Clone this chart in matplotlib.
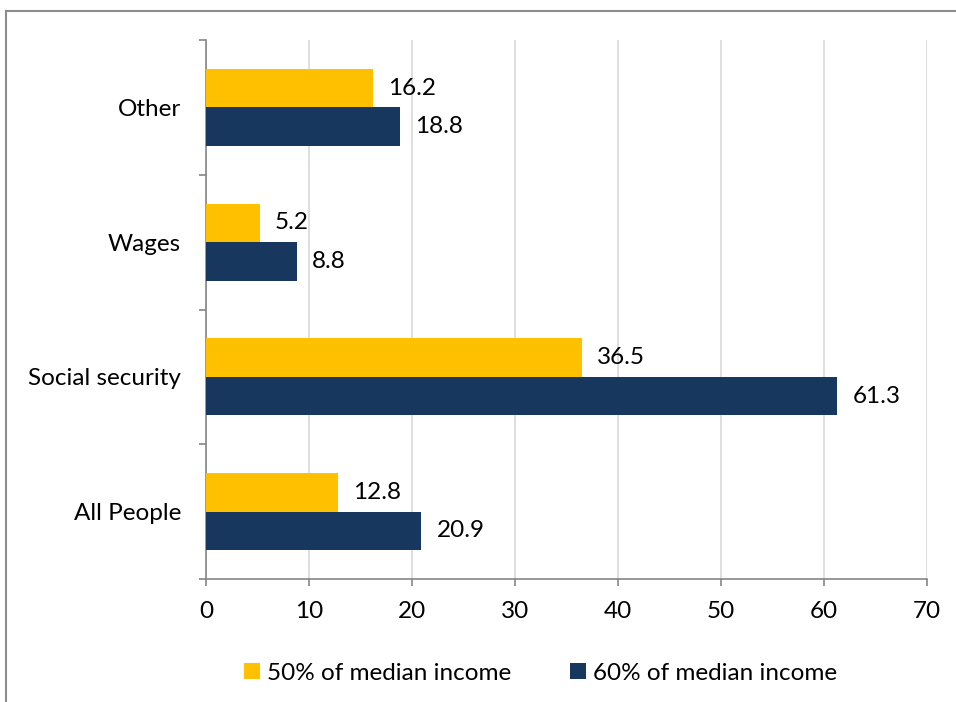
import numpy as np
import matplotlib.pyplot as plt
from matplotlib.lines import Line2D

categories = ['All People', 'Social security', 'Wages', 'Other']
median_50 = [12.8, 36.5, 5.2, 16.2]
median_60 = [20.9, 61.3, 8.8, 18.8]
series_names = ['50% of median income', '60% of median income']
x_ticks = [0, 10, 20, 30, 40, 50, 60, 70]

plt.rcParams['font.family'] = ['Lato', 'DejaVu Sans']
fs = 17.5

fig = plt.figure(figsize=(9.56, 7.02), dpi=100)
ax = fig.add_axes([0.2155, 0.1752, 0.7542, 0.7678])

y = np.arange(len(categories))
h = 0.285
b1 = ax.barh(y + h / 2, median_50, height=h, color='#FFC000', label=series_names[0], zorder=3)
b2 = ax.barh(y - h / 2, median_60, height=h, color='#17375E', label=series_names[1], zorder=3)

for bars, vals in [(b1, median_50), (b2, median_60)]:
    for bar, v in zip(bars, vals):
        ax.annotate(f'{v:.1f}', (v, bar.get_y() + bar.get_height() / 2),
                    xytext=(11, 0), textcoords='offset points',
                    va='center', ha='left', fontsize=fs, color='black')

ax.set_xlim(0, 70)
ax.set_ylim(-0.5, len(categories) - 0.5)
ax.set_xticks(x_ticks)
ax.set_xticklabels([str(t) for t in x_ticks], fontsize=fs)
ax.set_yticks(y)
ax.set_yticklabels(categories, fontsize=fs)
ax.set_yticks(np.arange(len(categories) + 1) - 0.5, minor=True)

ax.grid(axis='x', color='#D9D9D9', linewidth=1.2, zorder=0)
ax.tick_params(axis='y', which='major', length=0, pad=18)
ax.tick_params(axis='y', which='minor', length=5, color='#868686', width=1.2)
ax.tick_params(axis='x', length=5, color='#868686', width=1.2, pad=11)

for s in ['top', 'right']:
    ax.spines[s].set_visible(False)
for s in ['left', 'bottom']:
    ax.spines[s].set_color('#868686')
    ax.spines[s].set_linewidth(1.2)

ax.legend(loc='upper center', bbox_to_anchor=(0.464, -0.115), ncol=2, frameon=False,
          fontsize=fs, handlelength=0.65, handleheight=0.65, handletextpad=0.3,
          columnspacing=2.4)

# outer frame
fig.add_artist(Line2D([5.5 / 956, 1], [1 - 10.5 / 702] * 2, color='#8C8C8C', lw=1.5,
                      transform=fig.transFigure))
fig.add_artist(Line2D([5.5 / 956] * 2, [0, 1 - 10.5 / 702], color='#8C8C8C', lw=1.5,
                      transform=fig.transFigure))

fig.savefig('out.png', dpi=100)
